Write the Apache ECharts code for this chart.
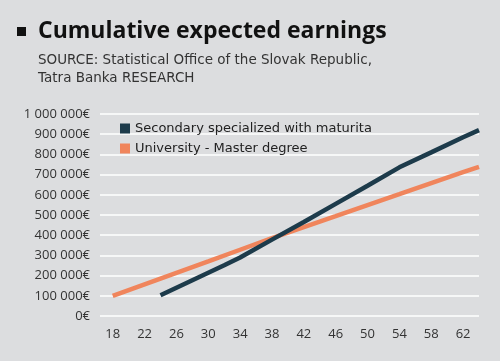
<!DOCTYPE html>
<html><head><meta charset="utf-8">
<script src="https://cdn.jsdelivr.net/npm/echarts@6/dist/echarts.min.js"></script>
<style>html,body{margin:0;padding:0;background:#dcdddf;}#c{width:500px;height:361px;}</style>
</head><body><div id="c"></div>
<script>
const xTicks = [18,22,26,30,34,38,42,46,50,54,58,62];
const uniAges = [18,22,26,30,34,38,42,46,50,54,58,62,64];
const uniValues = [100000,157000,214000,270000,328000,385000,440000,494000,549000,603000,658000,712000,738000];
const secAges = [24,28,32,34,38,42,46,50,54,58,62,64];
const secValues = [103000,177000,251000,290000,378000,465000,555000,645000,736000,810000,885000,920000];
const seriesNames = ['Secondary specialized with maturita','University - Master degree'];

const FONT = 'Open Sans';
const FONT2 = 'DejaVu Sans';
function fmt(v){ return String(v).replace(/\B(?=(\d{3})+(?!\d))/g,' ') + '€'; }
const chart = echarts.init(document.getElementById('c'), null, {renderer:'canvas'});
chart.setOption({
  backgroundColor:'#dcdddf',
  textStyle:{fontFamily:FONT},
  title:{
    text:'Cumulative expected earnings',
    subtext:'SOURCE: Statistical Office of the Slovak Republic,\nTatra Banka RESEARCH',
    left:33, top:15, itemGap:8,
    textStyle:{fontFamily:FONT,fontSize:23,fontWeight:'bold',color:'#111'},
    subtextStyle:{fontFamily:FONT2,fontSize:13.5,color:'#333',lineHeight:18}
  },
  graphic:[{type:'rect',shape:{x:17,y:27,width:9,height:9},style:{fill:'#111'}}],
  legend:{
    orient:'vertical', left:115, top:117, itemWidth:10, itemHeight:10, itemGap:7,
    icon:'rect',
    textStyle:{fontFamily:FONT2,fontSize:13,color:'#222'},
    data:seriesNames
  },
  grid:{left:100,right:21,top:114,bottom:45,containLabel:false},
  xAxis:{
    type:'value', min:16.4, max:64,
    axisLine:{show:false}, axisTick:{show:false}, splitLine:{show:false},
    axisLabel:{customValues:xTicks, fontFamily:FONT, fontSize:13, color:'#333', margin:12}
  },
  yAxis:{
    type:'value', min:0, max:1000000, interval:100000,
    axisLine:{show:false}, axisTick:{show:false},
    splitLine:{lineStyle:{color:'#ffffff',width:1.5}},
    axisLabel:{formatter:fmt, fontFamily:FONT, fontSize:13, color:'#333', margin:10}
  },
  series:[
    {name:seriesNames[0], type:'line', data:secAges.map((a,i)=>[a,secValues[i]]),
     showSymbol:false, symbol:'none', lineStyle:{color:'#1d3b4b',width:4.5}, itemStyle:{color:'#1d3b4b'}, z:3, animation:false},
    {name:seriesNames[1], type:'line', data:uniAges.map((a,i)=>[a,uniValues[i]]),
     showSymbol:false, symbol:'none', lineStyle:{color:'#f0855c',width:4.5}, itemStyle:{color:'#f0855c'}, z:2, animation:false}
  ],
  animation:false
});
</script></body></html>
